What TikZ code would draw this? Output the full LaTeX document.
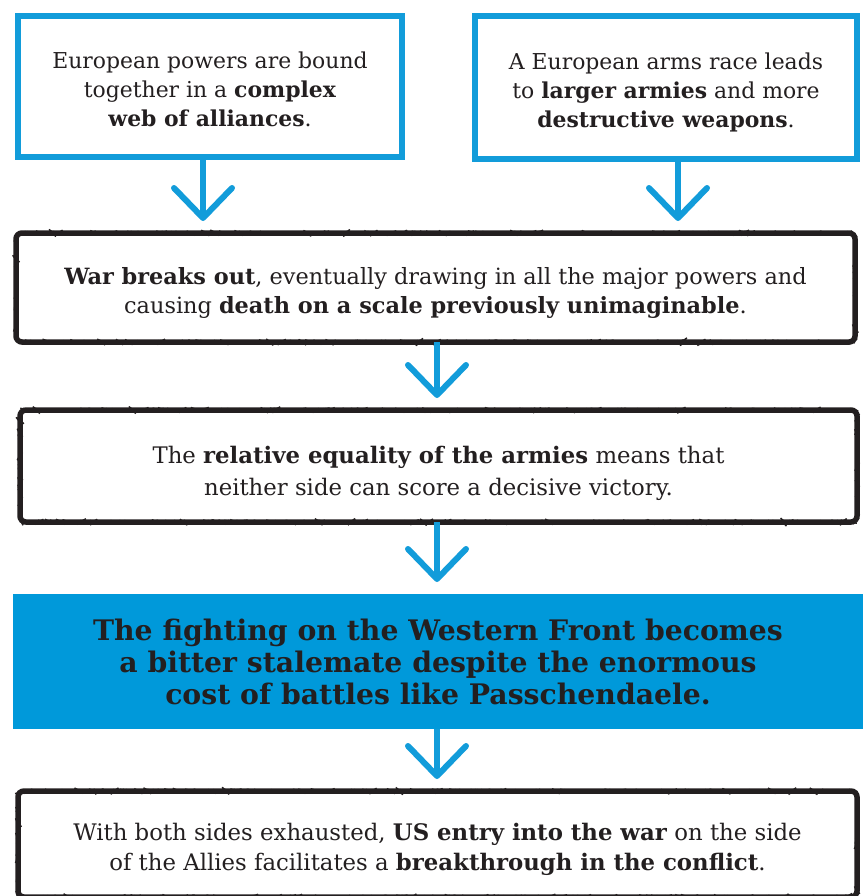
\documentclass[tikz,border=0pt]{standalone}
\usepackage{fontspec}
\setmainfont{DejaVu Serif}
\usetikzlibrary{arrows.meta,decorations.pathmorphing}
\definecolor{cblue}{RGB}{18,156,218}
\definecolor{fblue}{RGB}{0,153,218}
\definecolor{ink}{RGB}{35,31,32}
\newcommand\lowtext[2]{\raisebox{-#1}[\height][\depth]{\begin{tabular}{@{}c@{}}#2\end{tabular}}}
\tikzset{
  x=1pt, y=-1pt,
  every node/.style={outer sep=0pt, inner sep=0pt, align=center, text=ink},
  topbox/.style={draw=cblue, line width=6pt, fill=white},
  roughbox/.style={draw=ink, line width=5.5pt, rounded corners=6pt,
    postaction={draw=ink, line width=1.4pt, decorate,
      decoration={random steps, segment length=3pt, amplitude=1pt}}},
  bluebox/.style={fill=fblue},
  flowarrow/.style={draw=cblue, line width=6pt,
    -{Straight Barb[length=30pt, width=58pt, round]}, shorten >=12pt},
}
\pgfmathsetseed{7}
\begin{document}
\begin{tikzpicture}
\useasboundingbox (0,0) rectangle (865,896);
\clip (0,0) rectangle (865,896);

\node[topbox, minimum width=384pt, minimum height=141pt, font=\fontsize{21.9}{29}\selectfont] (b1) at (210,86.5)
  {\lowtext{5pt}{European powers are bound\\together in a \textbf{complex}\\\textbf{web of alliances}.}};
\node[topbox, minimum width=382pt, minimum height=143pt, font=\fontsize{21.9}{29}\selectfont] (b2) at (666,87.5)
  {\lowtext{5pt}{A European arms race leads\\to \textbf{larger armies} and more\\\textbf{destructive weapons}.}};

\node[roughbox, minimum width=839pt, minimum height=109pt, font=\fontsize{22.4}{29}\selectfont] (b3) at (435.5,287.5)
  {\lowtext{6pt}{\textbf{War breaks out}, eventually drawing in all the major powers and\\causing \textbf{death on a scale previously unimaginable}.}};

\node[roughbox, minimum width=837pt, minimum height=112pt, font=\fontsize{22.8}{32}\selectfont] (b4) at (438.5,466)
  {\lowtext{7pt}{The \textbf{relative equality of the armies} means that\\neither side can score a decisive victory.}};

\node[bluebox, minimum width=850pt, minimum height=135pt, font=\fontsize{28.3}{32}\selectfont\bfseries] (b5) at (438,661.5)
  {\lowtext{5pt}{The fighting on the Western Front becomes\\a bitter stalemate despite the enormous\\cost of battles like Passchendaele.}};

\node[roughbox, minimum width=839pt, minimum height=106pt, font=\fontsize{22.8}{29.5}\selectfont] (b6) at (437.5,844)
  {\lowtext{5.5pt}{With both sides exhausted, \textbf{US entry into the war} on the side\\of the Allies facilitates a \textbf{breakthrough in the conflict}.}};

\draw[flowarrow] ([xshift=-7pt]b1.south) -- ([xshift=-7pt]b1.south |- b3.north);
\draw[flowarrow] ([xshift=12pt]b2.south) -- ([xshift=12pt]b2.south |- b3.north);
\draw[flowarrow] ([xshift=1.5pt]b3.south) -- ([xshift=1.5pt]b3.south |- b4.north);
\draw[flowarrow] ([xshift=-1.5pt]b4.south) -- ([xshift=-1.5pt]b4.south |- b5.north);
\draw[flowarrow] ([xshift=-1pt]b5.south) -- ([xshift=-1pt]b5.south |- b6.north);
\end{tikzpicture}
\end{document}
